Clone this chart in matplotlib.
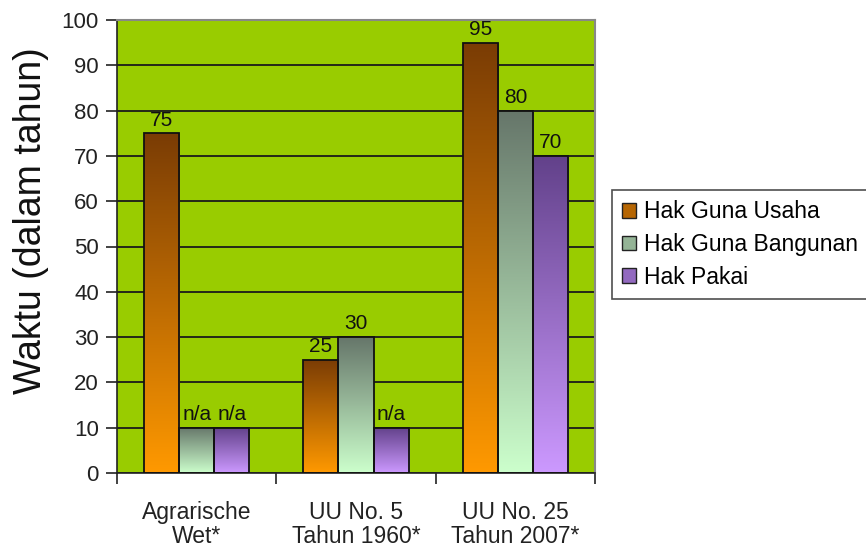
import numpy as np
import matplotlib
matplotlib.use("Agg")
import matplotlib.pyplot as plt
from matplotlib.colors import LinearSegmentedColormap

plt.rcParams["font.family"] = ["Liberation Sans", "DejaVu Sans"]

categories = ["Agrarische\nWet*", "UU No. 5\nTahun 1960*", "UU No. 25\nTahun 2007*"]
series = ["Hak Guna Usaha", "Hak Guna Bangunan", "Hak Pakai"]
hgu = [75, 25, 95]
hgb = [10, 30, 80]
hp = [10, 10, 70]
labels_hgu = ["75", "25", "95"]
labels_hgb = ["n/a", "30", "80"]
labels_hp = ["n/a", "n/a", "70"]

# (top colour, bottom colour) for each series gradient
gradients = [("#7a3c05", "#ff9900"), ("#66766a", "#ccffcc"), ("#62418a", "#cc99ff")]

fig = plt.figure(figsize=(8.66, 5.49), dpi=100)
ax = fig.add_axes([117 / 866, 76 / 549, 478 / 866, 453 / 549])
ax.set_facecolor("#99cc00")

x = np.arange(len(categories))
width = 0.22
values = [hgu, hgb, hp]
texts = [labels_hgu, labels_hgb, labels_hp]
grad = np.linspace(0, 1, 256).reshape(-1, 1)

handles = []
for i, (vals, lbls, (top, bot)) in enumerate(zip(values, texts, gradients)):
    cmap = LinearSegmentedColormap.from_list(series[i], [bot, top])
    bars = ax.bar(x + (i - 1) * width, vals, width, facecolor="none",
                  edgecolor="#111111", linewidth=1.3, zorder=3, label=series[i])
    for b, lbl in zip(bars, lbls):
        x0, y0 = b.get_x(), b.get_y()
        im = ax.imshow(grad, cmap=cmap, aspect="auto", origin="lower",
                       extent=[x0, x0 + b.get_width(), y0, y0 + b.get_height()],
                       zorder=2)
        im.set_clip_path(b)
        ax.text(b.get_x() + b.get_width() / 2, b.get_height() + 0.8, lbl,
                ha="center", va="bottom", fontsize=15, color="#111111", zorder=4)
    handles.append(plt.Rectangle((0, 0), 1, 1, facecolor=cmap(0.55),
                                 edgecolor="#222222", linewidth=1))

ax.set_xlim(-0.5, 2.5)
ax.set_ylim(0, 100)
ax.set_yticks(range(0, 101, 10))
ax.yaxis.grid(True, color="#1a1a1a", linewidth=1.3, zorder=1)
ax.set_axisbelow(True)
ax.set_xticks([-0.5, 0.5, 1.5, 2.5])
ax.set_xticklabels([])
ax.set_xticks(x, minor=True)
ax.set_xticklabels(categories, minor=True, fontsize=16.5, color="#222222",
                   linespacing=1.05)
ax.tick_params(axis="x", which="minor", length=0, pad=20)
ax.tick_params(axis="x", which="major", length=8, width=1.2, color="#222222")
ax.tick_params(axis="y", length=8, width=1.2, color="#222222", labelsize=16,
               labelcolor="#222222", pad=5)

for side in ["left", "bottom"]:
    ax.spines[side].set_color("#222222")
    ax.spines[side].set_linewidth(1.2)
for side in ["top", "right"]:
    ax.spines[side].set_color("#888888")
    ax.spines[side].set_linewidth(1.5)

ax.set_ylabel("Waktu (dalam tahun)", fontsize=27, color="#111111")
ax.yaxis.set_label_coords(-0.142, 0.558)

leg = fig.legend(handles, series, loc="upper left", bbox_to_anchor=(612 / 866, 1 - 190 / 549),
                 frameon=True, fancybox=False, fontsize=16.5, handlelength=0.6,
                 handleheight=0.6, handletextpad=0.35, borderpad=0.45, labelspacing=0.42,
                 borderaxespad=0)
leg.get_frame().set_edgecolor("#222222")
leg.get_frame().set_linewidth(1.2)

fig.savefig("out.png", dpi=100)
